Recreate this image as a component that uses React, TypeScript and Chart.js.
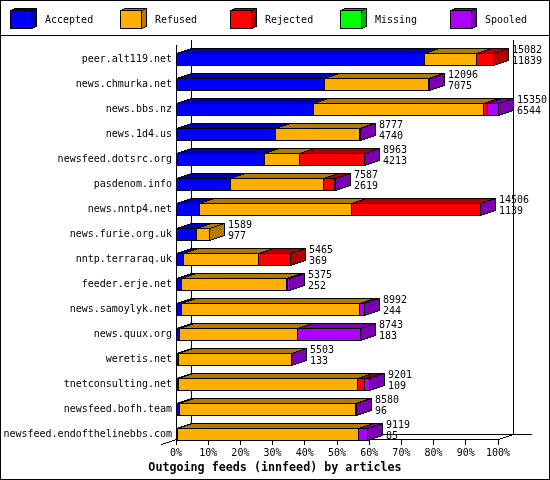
import React, { useEffect, useRef } from "react";
import { Chart, registerables } from "chart.js";

Chart.register(...registerables);

const hosts = ["peer.alt119.net","news.chmurka.net","news.bbs.nz","news.1d4.us","newsfeed.dotsrc.org","pasdenom.info","news.nntp4.net","news.furie.org.uk","nntp.terraraq.uk","feeder.erje.net","news.samoylyk.net","news.quux.org","weretis.net","tnetconsulting.net","newsfeed.bofh.team","newsfeed.endofthelinebbs.com"];
const accepted = [77.0,46.0,42.5,30.6,27.3,16.8,7.1,6.2,2.2,1.6,1.6,1.0,0.6,0.6,0.9,0.3];
const refused = [16.2,32.3,52.8,26.2,10.9,28.9,47.2,4.0,23.3,32.6,55.3,36.6,35.1,55.6,54.7,56.2];
const rejected = [5.3,0,1.3,0,20.2,3.5,40.1,0,10.0,0.4,0,0,0,2.2,0,0];
const missing = [0,0,0,0,0,0,0,0,0,0,0,0,0,0,0,0];
const spooled = [0,0.3,3.4,0.4,0.1,0.2,0.1,0,0,0.4,1.6,19.5,0.1,1.6,0.3,2.8];
const totals = ["15082","12096","15350","8777","8963","7587","14506","1589","5465","5375","8992","8743","5503","9201","8580","9119"];
const seconds = ["11839","7075","6544","4740","4213","2619","1139","977","369","252","244","183","133","109","96","85"];
const seriesNames = ["Accepted","Refused","Rejected","Missing","Spooled"];
const seriesValues = [accepted, refused, rejected, missing, spooled];
const colors = ["#0000ff","#ffaf00","#ff0000","#00ff00","#af00ff"];
const darkColors = ["#0000b2","#b27a00","#b20000","#00b200","#7a00b2"];
const legendX = [10,120,230,340,450];

const MONO = '"DejaVu Sans Mono", monospace';
const DX = 15, DY = 5;

function px(ctx: any, x: number, y: number) { ctx.fillRect(x, y, 1, 1); }
function line(ctx: any, x0: number, y0: number, x1: number, y1: number) {
  const dx = Math.abs(x1 - x0), dy = -Math.abs(y1 - y0);
  const sx = x0 < x1 ? 1 : -1, sy = y0 < y1 ? 1 : -1;
  let err = dx + dy, x = x0, y = y0;
  for (;;) {
    px(ctx, x, y);
    if (x === x1 && y === y1) break;
    const e = 2 * err;
    if (e >= dy) { err += dy; x += sx; }
    if (e <= dx) { err += dx; y += sy; }
  }
}
function poly(ctx: any, pts: number[][], fill: string) {
  const ys = pts.map((p) => p[1]);
  ctx.fillStyle = fill;
  for (let y = Math.min(...ys); y <= Math.max(...ys); y++) {
    const xs: number[] = [];
    pts.forEach((p, i) => {
      const q = pts[(i + 1) % pts.length];
      if (p[1] === q[1]) { if (p[1] === y) xs.push(p[0], q[0]); }
      else if (y >= Math.min(p[1], q[1]) && y <= Math.max(p[1], q[1])) {
        xs.push(p[0] + ((y - p[1]) * (q[0] - p[0])) / (q[1] - p[1]));
      }
    });
    if (xs.length) {
      const a = Math.round(Math.min(...xs)), b = Math.round(Math.max(...xs));
      ctx.fillRect(a, y, b - a + 1, 1);
    }
  }
  ctx.fillStyle = "#000";
  pts.forEach((p, i) => {
    const q = pts[(i + 1) % pts.length];
    line(ctx, p[0], p[1], q[0], q[1]);
  });
}
function solidSegments(chart: any, index: number) {
  const out: any[] = [];
  chart.data.datasets.forEach((ds: any, i: number) => {
    if (ds.data[index] > 0) out.push({ i, el: chart.getDatasetMeta(i).data[index] });
  });
  return out;
}

const threeD = {
  id: "threeD",
  afterDatasetsUpdate(chart: any) {
    chart.data.datasets.forEach((_: any, i: number) => {
      chart.getDatasetMeta(i).data.forEach((el: any) => {
        el.base = Math.round(el.base);
        el.x = Math.round(el.x) + 1;
      });
    });
  },
  afterLayout(chart: any) {
    const t = chart.titleBlock;
    if (t) { t.left = 0; t.right = 550; t.width = 550; }
  },
  beforeDraw(chart: any) {
    const ctx = chart.ctx;
    ctx.save();
    ctx.fillStyle = "#fff";
    ctx.fillRect(0, 0, 550, 480);
    ctx.restore();
  },
  beforeDatasetsDraw(chart: any) {
    const ctx = chart.ctx;
    const xs = chart.scales.x;
    const x0 = Math.floor(xs.getPixelForValue(0));
    const x100 = Math.floor(xs.getPixelForValue(100));
    const bottom = Math.floor(chart.chartArea.bottom) - 7;
    const top = 40;
    ctx.save();
    ctx.fillStyle = "#000";
    ctx.fillRect(0, 0, 550, 1);
    ctx.fillRect(0, 479, 550, 1);
    ctx.fillRect(0, 0, 1, 480);
    ctx.fillRect(549, 0, 1, 480);
    ctx.fillRect(0, 35, 550, 1);
    ctx.fillRect(x0, top + DY, 1, bottom - top - DY + 1);
    ctx.fillRect(x0 + DX, top, 1, bottom - DY - top + 1);
    ctx.fillRect(x100 + DX, top, 1, bottom - DY - top + 1);
    ctx.fillRect(x0 + DX, bottom - DY, 341, 1);
    ctx.fillRect(x0, bottom, x100 - x0 + 1, 1);
    line(ctx, x0 - DX, bottom + DY, x0 + DX, bottom - DY);
    line(ctx, x100, bottom, x100 + DX, bottom - DY);
    for (let v = 0; v <= 100; v += 10) {
      ctx.fillRect(Math.floor(xs.getPixelForValue(v)), bottom, 1, 6);
    }
    hosts.forEach((_, k) => {
      const segs = solidSegments(chart, k);
      segs.forEach(({ i, el }: any) => {
        const a = el.base, b = el.x - 1;
        const t = Math.round(el.y - el.height / 2);
        poly(ctx, [[a, t], [b, t], [b + DX, t - DY], [a + DX, t - DY]], darkColors[i]);
      });
      const last = segs[segs.length - 1];
      if (last) {
        const b = last.el.x - 1;
        const t = Math.round(last.el.y - last.el.height / 2);
        const h = last.el.height - 1;
        poly(ctx, [[b, t], [b + DX, t - DY], [b + DX, t - DY + h], [b, t + h]], darkColors[last.i]);
      }
    });
    ctx.restore();
  },
  afterDraw(chart: any) {
    const ctx = chart.ctx;
    ctx.save();
    ctx.font = "10px " + MONO;
    ctx.fillStyle = "#000";
    ctx.textBaseline = "middle";
    ctx.textAlign = "left";
    hosts.forEach((_, k) => {
      const segs = solidSegments(chart, k);
      const el = segs[segs.length - 1].el;
      ctx.fillText(totals[k], el.x - 1 + 19, el.y - 9.5);
      ctx.fillText(seconds[k], el.x - 1 + 19, el.y + 1.5);
    });
    seriesNames.forEach((name, i) => {
      const x = legendX[i];
      poly(ctx, [[x, 10], [x + 21, 10], [x + 26, 8], [x + 5, 8]], darkColors[i]);
      poly(ctx, [[x + 21, 10], [x + 26, 8], [x + 26, 26], [x + 21, 28]], darkColors[i]);
      poly(ctx, [[x, 10], [x + 21, 10], [x + 21, 28], [x, 28]], colors[i]);
      ctx.fillStyle = "#000";
      ctx.fillText(name, x + 35, 20);
    });
    ctx.restore();
  },
};

export default function App() {
  const ref = useRef<HTMLCanvasElement>(null);
  useEffect(() => {
    document.body.style.margin = "0";
    const chart = new Chart(ref.current as HTMLCanvasElement, {
      type: "bar",
      data: {
        labels: hosts,
        datasets: seriesNames.map((label, i) => ({
          label,
          data: seriesValues[i],
          backgroundColor: colors[i],
          borderColor: "#000",
          borderWidth: 1,
          borderSkipped: false,
          inflateAmount: 0,
          barThickness: 13,
        })),
      },
      options: {
        indexAxis: "y",
        animation: false,
        responsive: false,
        devicePixelRatio: 1,
        layout: { padding: { top: 47, right: 52, left: 0, bottom: 0 } },
        plugins: {
          legend: { display: false },
          tooltip: { enabled: false },
          title: {
            display: true,
            text: "Outgoing feeds (innfeed) by articles",
            position: "bottom",
            color: "#000",
            font: { family: MONO, size: 11.7, weight: "bold", lineHeight: 1.2 },
            padding: { top: 0, bottom: 5 },
          },
        },
        scales: {
          x: {
            type: "linear",
            stacked: true,
            min: 0,
            max: 100,
            grid: { display: false, drawTicks: false },
            border: { display: false },
            ticks: {
              stepSize: 10,
              padding: 0,
              color: "#000",
              maxRotation: 0,
              autoSkip: false,
              font: { family: MONO, size: 10 },
              callback: (v: any) => v + "%",
            },
            afterFit: (s: any) => { s.height = 14; },
          },
          y: {
            stacked: true,
            grid: { display: false, drawTicks: false },
            border: { display: false },
            ticks: {
              padding: 4,
              color: "#000",
              autoSkip: false,
              font: { family: MONO, size: 10 },
            },
            afterFit: (s: any) => { s.width = 176; },
          },
        },
      },
      plugins: [threeD],
    } as any);
    return () => chart.destroy();
  }, []);
  return <canvas ref={ref} width={550} height={480} style={{ display: "block" }} />;
}
